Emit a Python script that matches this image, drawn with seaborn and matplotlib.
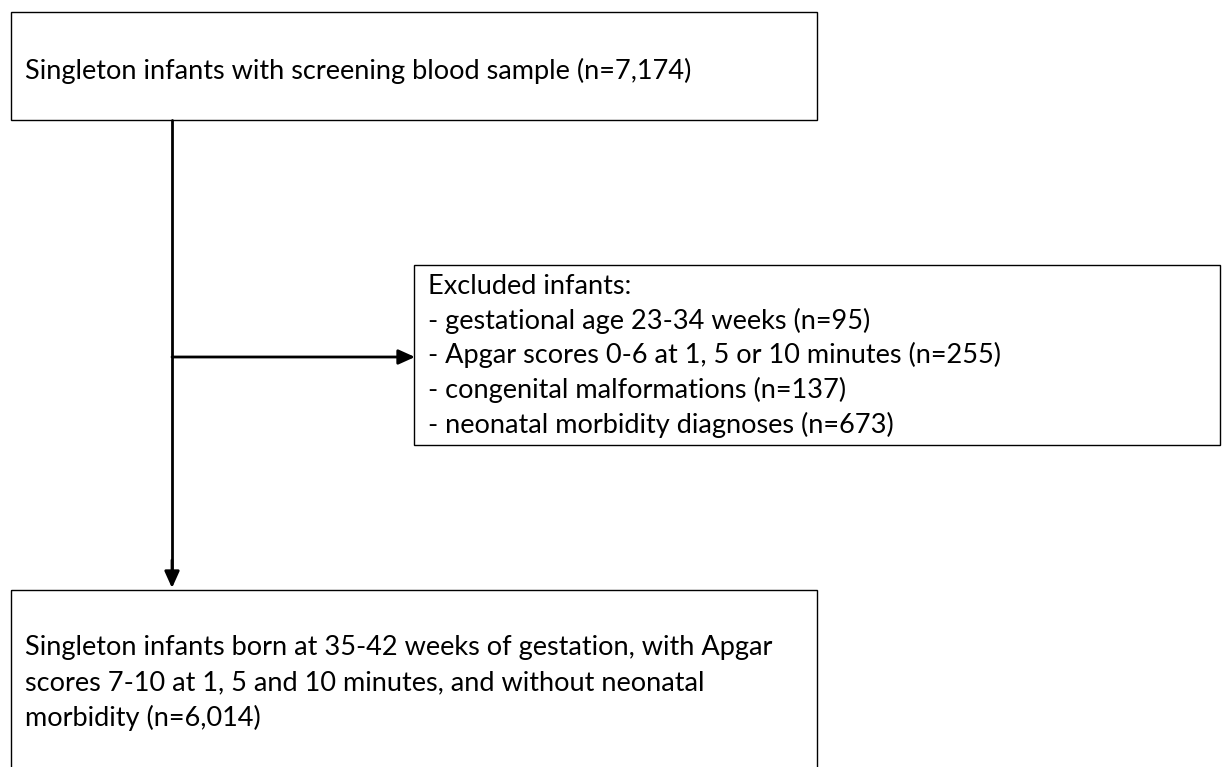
import seaborn as sns
import matplotlib
matplotlib.use("Agg")
import matplotlib.pyplot as plt
from matplotlib.patches import Rectangle

sns.set_style("white")
plt.rcParams['font.family'] = ['Lato', 'DejaVu Sans']

# box texts
top_text = ["Singleton infants with screening blood sample (n=7,174)"]
excluded_text = [
    "Excluded infants:",
    "- gestational age 23-34 weeks (n=95)",
    "- Apgar scores 0-6 at 1, 5 or 10 minutes (n=255)",
    "- congenital malformations (n=137)",
    "- neonatal morbidity diagnoses (n=673)",
]
final_text = [
    "Singleton infants born at 35-42 weeks of gestation, with Apgar",
    "scores 7-10 at 1, 5 and 10 minutes, and without neonatal",
    "morbidity (n=6,014)",
]

W, H = 1223, 767
fig = plt.figure(figsize=(W / 100, H / 100), dpi=100)
ax = fig.add_axes([0, 0, 1, 1])
ax.set_xlim(0, W)
ax.set_ylim(H, 0)
ax.axis("off")

fs = 19.5

# boxes (x0, y0, x1, y1) in pixels
boxes = [(11, 12, 817, 120), (414, 265, 1220, 445), (11, 590, 817, 790)]
for x0, y0, x1, y1 in boxes:
    ax.add_patch(Rectangle((x0, y0), x1 - x0, y1 - y0, fill=False,
                           edgecolor="black", linewidth=1.0))

def draw_lines(lines, x, y0, step):
    for i, t in enumerate(lines):
        ax.text(x, y0 + i * step, t, fontsize=fs, va="center", ha="left",
                color="black")

draw_lines(top_text, 25, 71, 0)
draw_lines(excluded_text, 428, 286, 34.7)
draw_lines(final_text, 25, 647, 35.5)

# arrows
ax.plot([172, 172], [120, 575], color="black", lw=2)
ax.annotate("", xy=(172, 588), xytext=(172, 560),
            arrowprops=dict(arrowstyle="-|>,head_length=1.0,head_width=0.45",
                            color="black", lw=2, shrinkA=0, shrinkB=0))
ax.annotate("", xy=(415, 357), xytext=(172, 357),
            arrowprops=dict(arrowstyle="-|>,head_length=1.0,head_width=0.45",
                            color="black", lw=2, shrinkA=0, shrinkB=0))

fig.savefig("out.png", dpi=100, facecolor="white")
